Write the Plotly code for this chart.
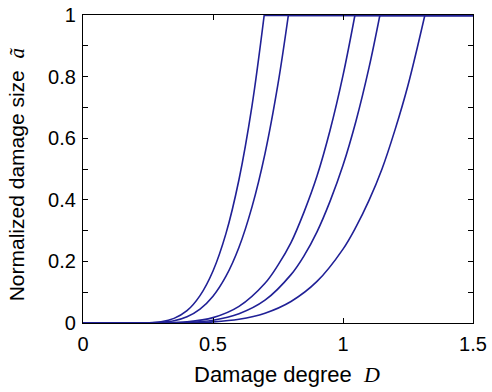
import plotly.graph_objects as go

# Damage degree D and normalized damage size ã (rising part)
D1 = [0.2, 0.25, 0.3, 0.35, 0.4, 0.45, 0.5, 0.55, 0.6, 0.65, 0.697]
A1 = [0.0, 0.0005, 0.004, 0.015, 0.040, 0.089, 0.169, 0.291, 0.466, 0.705, 1.0]

D2 = [0.2, 0.25, 0.3, 0.35, 0.4, 0.45, 0.5, 0.55, 0.6, 0.65, 0.7, 0.75, 0.79]
A2 = [0.0, 0.0002, 0.002, 0.007, 0.020, 0.045, 0.087, 0.152, 0.246, 0.377, 0.55, 0.776, 1.0]

D3 = [0.2, 0.3, 0.4, 0.5, 0.6, 0.7, 0.75, 0.8, 0.85, 0.9, 0.95, 1.0, 1.046]
A3 = [0.0, 0.0002, 0.0036, 0.0175, 0.054, 0.129, 0.188, 0.261, 0.36, 0.477, 0.625, 0.804, 1.0]

D4 = [0.2, 0.3, 0.4, 0.5, 0.6, 0.7, 0.8, 0.85, 0.9, 0.95, 1.0, 1.05, 1.1, 1.142]
A4 = [0.0, 0.0001, 0.0017, 0.0092, 0.030, 0.074, 0.157, 0.218, 0.296, 0.395, 0.512, 0.656, 0.829, 1.0]

D5 = [0.2, 0.3, 0.4, 0.5, 0.6, 0.7, 0.8, 0.9, 1.0, 1.05, 1.1, 1.15, 1.2, 1.25, 1.315]
A5 = [0.0, 0.0, 0.0006, 0.0035, 0.012, 0.032, 0.070, 0.135, 0.240, 0.312, 0.398, 0.50, 0.627, 0.772, 1.0]

SERIES = [(D1, A1), (D2, A2), (D3, A3), (D4, A4), (D5, A5)]

D_MIN, D_MAX = 0.0, 1.5      # domain of the curves
A_LOW, A_HIGH = 0.0, 1.0     # flat levels before onset and after saturation

X_TICKS = [0, 0.5, 1, 1.5]
X_LABELS = ["0", "0.5", "1", "1.5"]
Y_TICKS = [0, 0.1, 0.2, 0.3, 0.4, 0.5, 0.6, 0.7, 0.8, 0.9, 1.0]
Y_LABELS = ["0", "", "0.2", "", "0.4", "", "0.6", "", "0.8", "", "1"]

LINE_COLOR = "#202096"
FONT = "Liberation Sans, Arial, sans-serif"
SERIF = "Liberation Serif, Times New Roman, serif"

fig = go.Figure()
line_style = dict(color=LINE_COLOR, width=1.6)
for d, a in SERIES:
    # flat part before onset
    fig.add_trace(go.Scatter(x=[D_MIN, d[0]], y=[A_LOW, a[0]], mode="lines",
                             line=line_style, showlegend=False, hoverinfo="skip"))
    # rising part
    fig.add_trace(go.Scatter(x=d, y=a, mode="lines",
                             line=dict(line_style, shape="spline", smoothing=1.0),
                             showlegend=False, hoverinfo="skip"))
    # saturated part
    fig.add_trace(go.Scatter(x=[d[-1], D_MAX], y=[a[-1], A_HIGH], mode="lines",
                             line=dict(color=LINE_COLOR, width=2.4),
                             showlegend=False, hoverinfo="skip"))

axis_common = dict(
    showline=True, linecolor="black", linewidth=1.2, mirror="ticks",
    ticks="inside", ticklen=5, tickcolor="black", tickwidth=1,
    showgrid=False, zeroline=False, automargin=False,
    tickfont=dict(family=FONT, size=20, color="black"),
)

fig.update_xaxes(range=[0, 1.5], tickvals=X_TICKS, ticktext=X_LABELS, ticklabelstandoff=3, **axis_common)
fig.update_yaxes(range=[0, 1], tickvals=Y_TICKS, ticktext=Y_LABELS, ticklabelstandoff=2, **axis_common)

fig.update_layout(
    width=492, height=392,
    margin=dict(l=83, r=19, t=15, b=69, autoexpand=False),
    plot_bgcolor="white", paper_bgcolor="white",
    font=dict(family=FONT, color="black"),
    annotations=[
        dict(
            text=f'Damage degree  <span style="font-family:{SERIF}"><i>D</i></span>',
            xref="paper", yref="paper", x=0.523, y=-0.167,
            xanchor="center", yanchor="middle", showarrow=False,
            font=dict(family=FONT, size=22, color="black"),
        ),
        dict(
            text=f'Normalized damage size  <span style="font-family:{SERIF}"><i>ã</i></span>',
            xref="paper", yref="paper", x=-0.169, y=0.483,
            xanchor="center", yanchor="middle", showarrow=False, textangle=-90,
            font=dict(family=FONT, size=21, color="black"),
        ),
    ],
)

fig.write_html("out.html")
